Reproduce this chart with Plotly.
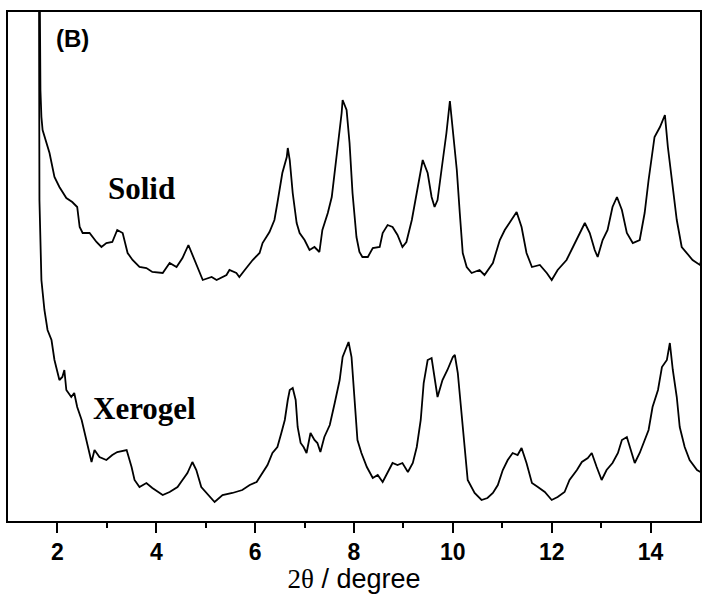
import plotly.graph_objects as go

# Solid pattern (2theta in degree, intensity in a.u.)
solid_2theta = [1.62, 1.656, 1.676, 1.70, 1.84, 1.94, 2.04, 2.18, 2.30, 2.40, 2.45, 2.51, 2.65, 2.79, 2.89,
                2.99, 3.11, 3.21, 3.32, 3.42, 3.52, 3.66, 3.80, 3.92, 4.13, 4.27, 4.41, 4.53, 4.65, 4.77,
                4.87, 4.94, 5.12, 5.22, 5.42, 5.48, 5.62, 5.68, 5.79, 5.95, 6.09, 6.15, 6.29, 6.39, 6.45,
                6.55, 6.64, 6.66, 6.70, 6.76, 6.84, 6.90, 7.00, 7.10, 7.20, 7.30, 7.36, 7.47, 7.55, 7.61,
                7.67, 7.75, 7.77, 7.85, 7.91, 7.97, 8.05, 8.11, 8.17, 8.28, 8.38, 8.52, 8.58, 8.68, 8.78,
                8.88, 8.98, 9.06, 9.17, 9.23, 9.33, 9.39, 9.49, 9.57, 9.63, 9.69, 9.77, 9.87, 9.94, 10.00,
                10.08, 10.14, 10.20, 10.28, 10.38, 10.54, 10.64, 10.81, 10.95, 11.05, 11.19, 11.29, 11.39,
                11.49, 11.60, 11.76, 11.90, 12.00, 12.12, 12.30, 12.43, 12.57, 12.67, 12.77, 12.87, 12.93,
                13.03, 13.13, 13.23, 13.32, 13.42, 13.52, 13.64, 13.78, 13.88, 13.96, 14.08, 14.19, 14.29,
                14.35, 14.45, 14.53, 14.63, 14.73, 14.85, 15.00, 15.04]
solid_int = [700, 431, 404, 391, 368, 344, 334, 323, 319, 314, 294, 288, 288, 279, 274,
             278, 279, 291, 288, 268, 261, 254, 253, 249, 248, 258, 254, 263, 276, 261,
             248, 241, 244, 241, 246, 251, 248, 244, 251, 261, 268, 278, 289, 301, 318,
             348, 364, 373, 361, 328, 298, 288, 281, 271, 274, 269, 291, 308, 324, 348,
             374, 408, 421, 411, 378, 328, 284, 269, 264, 264, 273, 274, 288, 296, 294,
             286, 274, 279, 301, 318, 348, 361, 348, 324, 314, 321, 351, 388, 420, 391,
             351, 308, 268, 254, 248, 251, 246, 258, 281, 291, 301, 309, 294,
             268, 254, 256, 248, 241, 251, 261, 274, 288, 298, 288, 271, 264,
             281, 291, 314, 324, 311, 288, 278, 281, 308, 341, 384, 394, 406,
             374, 331, 301, 274, 268, 261, 256, 264]

# Xerogel pattern
xerogel_2theta = [1.62, 1.636, 1.676, 1.737, 1.80, 1.88, 1.94, 2.04, 2.10, 2.14, 2.18, 2.28, 2.34, 2.40, 2.49,
                  2.55, 2.61, 2.69, 2.75, 2.85, 2.99, 3.11, 3.21, 3.40, 3.50, 3.56, 3.66, 3.80, 3.92, 4.13,
                  4.27, 4.43, 4.53, 4.63, 4.73, 4.81, 4.91, 5.02, 5.18, 5.34, 5.54, 5.74, 5.89, 6.03, 6.15,
                  6.25, 6.35, 6.45, 6.53, 6.60, 6.66, 6.70, 6.76, 6.82, 6.86, 6.92, 6.98, 7.04, 7.12, 7.20,
                  7.26, 7.32, 7.40, 7.51, 7.61, 7.71, 7.77, 7.85, 7.89, 7.95, 8.01, 8.07, 8.15, 8.26, 8.38,
                  8.48, 8.58, 8.68, 8.78, 8.88, 8.98, 9.09, 9.19, 9.27, 9.35, 9.41, 9.49, 9.57, 9.63, 9.69,
                  9.79, 9.89, 10.00, 10.04, 10.10, 10.18, 10.24, 10.30, 10.44, 10.58, 10.70, 10.81, 10.91,
                  11.01, 11.11, 11.21, 11.31, 11.39, 11.49, 11.60, 11.72, 11.86, 12.00, 12.12, 12.26, 12.36,
                  12.51, 12.61, 12.73, 12.81, 12.91, 13.01, 13.11, 13.23, 13.34, 13.42, 13.52, 13.58, 13.68,
                  13.78, 13.88, 13.96, 14.04, 14.15, 14.23, 14.33, 14.39, 14.45, 14.53, 14.59, 14.69, 14.79,
                  14.94, 15.04]
xerogel_int = [700, 321, 241, 211, 191, 181, 161, 141, 144, 151, 131, 124, 128, 114, 101,
               88, 74, 59, 71, 64, 61, 66, 69, 71, 54, 41, 34, 38, 33, 26,
               29, 34, 41, 48, 59, 51, 34, 28, 19, 26, 28, 31, 36, 39, 48,
               56, 68, 74, 88, 101, 121, 131, 133, 121, 94, 78, 74, 68, 88, 81,
               78, 69, 84, 96, 118, 141, 164, 174, 179, 164, 124, 81, 68, 54, 43,
               46, 39, 49, 58, 56, 58, 49, 58, 74, 101, 138, 161, 163, 144, 124,
               141, 151, 164, 166, 148, 108, 71, 41, 28, 21, 23, 28, 36,
               51, 61, 68, 66, 73, 58, 38, 34, 29, 21, 24, 29, 41,
               51, 59, 63, 68, 54, 41, 51, 58, 68, 81, 84, 74, 58,
               68, 81, 91, 114, 131, 154, 161, 178, 151, 124, 94, 74, 61,
               51, 48]

x_ticks = [2, 4, 6, 8, 10, 12, 14]
x_minor = [3, 5, 7, 9, 11, 13]

fig = go.Figure()
for xs, ys in [(solid_2theta, solid_int), (xerogel_2theta, xerogel_int)]:
    fig.add_trace(go.Scatter(x=xs, y=ys, mode="lines",
                             line=dict(color="black", width=1.8), showlegend=False))

fig.add_annotation(x=2.30, y=483, text="<b>(B)</b>", showarrow=False,
                   font=dict(family="Liberation Sans", size=24, color="black"))
fig.add_annotation(x=3.70, y=333, text="<b>Solid</b>", showarrow=False,
                   font=dict(family="Liberation Serif", size=31, color="black"))
fig.add_annotation(x=3.76, y=113, text="<b>Xerogel</b>", showarrow=False,
                   font=dict(family="Liberation Serif", size=31, color="black"))

fig.update_layout(
    width=702, height=594,
    margin=dict(l=8, r=0, t=12, b=73),
    paper_bgcolor="white", plot_bgcolor="white",
    xaxis=dict(range=[1, 15], tickvals=x_ticks, ticktext=[str(t) for t in x_ticks],
               ticks="outside", ticklen=10, tickwidth=1.5, tickcolor="black",
               minor=dict(tickvals=x_minor, ticks="outside", ticklen=5,
                          tickwidth=1.5, tickcolor="black", showgrid=False),
               showline=True, linecolor="black", linewidth=1.5, mirror=True,
               showgrid=False, zeroline=False, automargin=False,
               tickfont=dict(family="Liberation Sans", size=23, color="black", weight="bold"),
               title=dict(text="<span style='font-family:Liberation Serif'>2θ</span> / degree",
                          font=dict(family="Liberation Sans", size=27, color="black"),
                          standoff=6)),
    yaxis=dict(range=[0, 509], showticklabels=False, ticks="",
               showline=True, linecolor="black", linewidth=1.5, mirror=True,
               showgrid=False, zeroline=False),
)

fig.write_html("out.html")
